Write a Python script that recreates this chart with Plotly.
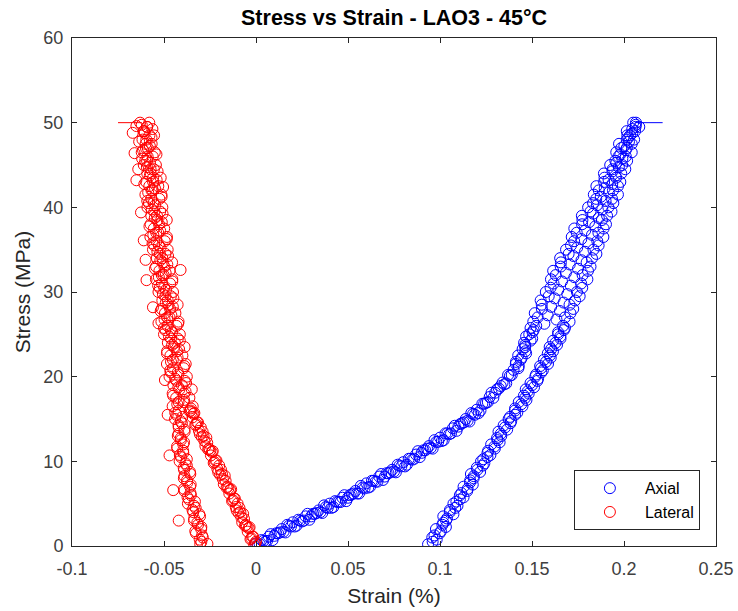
import plotly.graph_objects as go

# ---------------- Axial (strain %, stress MPa) ----------------
ax_load_strain = [0.000,0.002,0.004,0.006,0.008,0.010,0.012,0.014,0.016,0.018,0.020,0.022,0.024,0.026,0.028,
                  0.030,0.032,0.034,0.036,0.038,0.040,0.042,0.044,0.046,0.048,0.050,0.052,0.054,0.056,0.058,
                  0.060,0.062,0.064,0.066,0.068,0.070,0.072,0.074,0.076,0.078,0.080,0.082,0.084,0.086,0.088,
                  0.090,0.092,0.094,0.096,0.098,0.100,0.102,0.104,0.106,0.108,0.110,0.112,0.114,0.116,0.118,
                  0.120,0.122,0.124,0.126,0.128,0.130,0.132,0.134,0.136,0.138,0.140,
                  0.001,0.003,0.005,0.007,0.009,0.011,0.013,0.015,0.017,0.019,0.021,0.023,0.025,0.027,0.029,
                  0.031,0.033,0.035,0.037,0.039,0.041,0.043,0.045,0.047,0.049,0.051,0.053,0.055,0.057,0.059,
                  0.061,0.063,0.065,0.067,0.069,0.071,0.073,0.075,0.077,0.079,0.081,0.083,0.085,0.087,0.089,
                  0.091,0.093,0.095,0.097,0.099,0.101,0.103,0.105,0.107,0.109,0.111,0.113,0.115,0.117,0.119,
                  0.121,0.123,0.125,0.127,0.129,0.131,0.133,0.135,0.137,0.139,
                  0.1426,0.1412,0.1439,0.1425,0.1464,0.1463,0.1457,0.1501,0.1485,0.1509,0.1523,0.1507,0.1531,
                  0.1515,0.1554,0.1553,0.1547,0.1591,0.1575,0.1601,0.1617,0.1603,0.1629,0.1615,0.1656,0.1657,
                  0.1653,0.1699,0.1685,0.1712,0.1729,0.1716,0.1743,0.1730,0.1772,0.1774,0.1771,0.1818,0.1805,
                  0.1832,0.1849,0.1836,0.1863,0.1850,0.1892,0.1894,0.1891,0.1938,0.1925,0.1953,0.1970,0.1958,
                  0.1985,0.1973,0.2015,0.2018,0.2015,0.2063,0.2050,
                  0.1428,0.1413,0.1444,0.1468,0.1449,0.1463,0.1492,0.1468,0.1503,0.1492]
ax_load_stress = [0.3,0.2,0.6,0.6,1.4,1.2,1.5,2.0,1.6,2.4,2.8,2.4,3.0,3.0,3.8,
                  3.5,3.8,4.2,3.9,4.6,5.0,4.6,5.2,5.2,6.0,5.7,6.1,6.5,6.2,6.9,
                  7.4,7.0,7.7,7.6,8.5,8.2,8.6,9.0,8.7,9.5,9.9,9.6,10.3,10.3,11.2,
                  11.0,11.3,11.8,11.5,12.3,12.8,12.5,13.3,13.3,14.2,14.1,14.5,15.0,14.7,15.6,
                  16.1,16.0,16.8,17.0,18.1,18.1,18.6,19.3,19.2,20.1,20.8,
                  0.1,0.7,0.5,1.1,0.7,1.5,1.6,1.7,2.5,2.3,2.3,3.1,2.9,3.5,3.1,
                  3.8,3.9,4.0,4.8,4.5,4.5,5.3,5.2,5.7,5.3,6.0,6.2,6.2,7.1,6.8,
                  6.9,7.7,7.6,8.2,7.8,8.6,8.7,8.8,9.6,9.4,9.4,10.3,10.2,10.8,10.5,
                  11.3,11.5,11.6,12.5,12.3,12.4,13.3,13.2,13.9,13.6,14.4,14.6,14.8,15.7,15.5,
                  15.7,16.8,16.9,17.6,17.5,18.5,18.9,19.1,20.2,20.2,
                  21.0,21.5,22.0,22.5,23.0,23.5,24.0,24.5,25.0,25.5,26.0,26.5,27.0,
                  27.5,28.0,28.5,29.0,29.5,30.0,30.5,31.0,31.5,32.0,32.5,33.0,33.5,
                  34.0,34.5,35.0,35.5,36.0,36.5,37.0,37.5,38.0,38.5,39.0,39.5,40.0,
                  40.5,41.0,41.5,42.0,42.5,43.0,43.5,44.0,44.5,45.0,45.5,46.0,46.5,
                  47.0,47.5,48.0,48.5,49.0,49.5,50.0,
                  21.25,21.75,22.25,22.75,23.25,23.75,24.25,24.75,25.25,25.75]

ax_unl_stress = [50.0,49.5,49.0,48.5,48.0,47.5,47.0,46.5,46.0,45.5,45.0,44.5,44.0,43.5,43.0,42.5,42.0,41.5,
                 41.0,40.5,40.0,39.5,39.0,38.5,38.0,37.5,37.0,36.5,36.0,35.5,35.0,34.5,34.0,33.5,33.0,32.5,
                 32.0,31.5,31.0,30.5,30.0,29.5,29.0,28.5,28.0,27.5,27.0,26.5,26.0,25.5,25.0,24.5,24.0,23.5,
                 23.0,22.5,22.0,21.5,21.0,20.5,20.0,19.5,19.0,18.5,18.0,17.5,17.0,16.5,16.0,15.5,15.0,14.5,
                 14.0,13.5,13.0,12.5,12.0,11.5,11.0,10.5,10.0,9.5,9.0,8.5,8.0,7.5,7.0,6.5,6.0,5.5,
                 5.0,4.5,4.0,3.5,3.0,2.5,2.0,1.5,1.0,0.5,0.2,
                 0.75,1.25,1.75,2.25,2.75,3.25,3.75,4.25,4.75,5.25,5.75,6.25,6.75,7.25,7.75,8.25,8.75,
                 9.25,9.75,10.25,10.75,11.25,11.75,12.25,12.75,13.25,13.75,14.25,14.75,15.25,15.75,16.25,
                 16.75,17.25,17.75,18.25,18.75,19.25,19.75,20.25,20.75,21.25,21.75,22.25,22.75,23.25,23.75,
                 24.25,24.75,25.25,25.75,
                 26.25,26.75,27.25,27.75,28.25,28.75,29.25,29.75,30.25,30.75,31.25,31.75,32.25,32.75,33.25,
                 33.75,34.25,34.75,35.25,35.75,36.25,36.75,37.25,37.75,38.25,38.75,39.25,39.75,40.25,40.75,
                 41.25,41.75,42.25,42.75,43.25,43.75,44.25,44.75,45.25,45.75,46.25,46.75,47.25,47.75,48.25,
                 48.75,49.25,49.75]
ax_unl_strain = [0.2065,0.2083,0.2060,0.2033,0.2055,0.2042,0.2015,0.2042,0.2010,0.2017,0.1990,0.2007,0.1985,
                 0.1957,0.1980,0.1967,0.1940,0.1967,0.1935,0.1942,0.1915,0.1932,0.1908,0.1880,0.1902,0.1889,
                 0.1861,0.1888,0.1855,0.1862,0.1834,0.1850,0.1826,0.1797,0.1818,0.1804,0.1775,0.1801,0.1767,
                 0.1773,0.1744,0.1759,0.1734,0.1704,0.1724,0.1709,0.1679,0.1704,0.1669,0.1673,0.1642,0.1655,
                 0.1628,0.1596,0.1614,0.1597,0.1565,0.1587,0.1549,0.1551,0.1518,0.1529,0.1500,0.1466,0.1482,
                 0.1463,0.1428,0.1448,0.1408,0.1408,0.1373,0.1383,0.1353,0.1318,0.1333,0.1313,0.1278,0.1298,
                 0.1258,0.1258,0.1223,0.1233,0.1203,0.1168,0.1183,0.1163,0.1128,0.1148,0.1108,0.1108,0.1073,
                 0.1083,0.1053,0.1018,0.1033,0.1013,0.0978,0.0998,0.0958,0.0960,0.0935,
                 0.0982,0.0970,0.1005,0.1032,0.1018,0.1038,0.1073,0.1054,0.1095,0.1089,0.1128,0.1116,0.1150,
                 0.1178,0.1164,0.1184,0.1218,0.1200,0.1241,0.1235,0.1274,0.1262,0.1296,0.1324,0.1310,0.1330,
                 0.1365,0.1346,0.1387,0.1381,0.1420,0.1408,0.1442,0.1470,0.1456,0.1476,0.1511,0.1492,0.1533,
                 0.1522,0.1559,0.1544,0.1576,0.1602,0.1586,0.1604,0.1636,0.1615,0.1654,0.1642,0.1679,
                 0.1567,0.1633,0.1585,0.1652,0.1604,0.1672,0.1623,0.1692,0.1643,0.1711,0.1663,0.1730,0.1684,
                 0.1750,0.1705,0.1769,0.1725,0.1788,0.1746,0.1807,0.1768,0.1826,0.1789,0.1844,0.1810,0.1863,
                 0.1832,0.1882,0.1853,0.1900,0.1874,0.1918,0.1895,0.1936,0.1916,0.1954,0.1937,0.1972,0.1958,
                 0.1991,0.1980,0.2009,0.2002,0.2027,0.2024,0.2045,0.2045,0.2064]

# ---------------- Lateral (strain %, stress MPa) ----------------
lat_load_strain = [0.000,-0.001,-0.002,-0.003,-0.004,-0.005,-0.006,-0.007,-0.008,-0.009,-0.010,-0.011,-0.012,
                   -0.013,-0.014,-0.015,-0.016,-0.017,-0.018,-0.019,-0.020,-0.021,-0.022,-0.023,-0.024,-0.025,
                   -0.026,-0.027,-0.028,-0.029,-0.030,-0.031,-0.032,-0.033,-0.034,-0.035,-0.036,
                   -0.0005,-0.0015,-0.0025,-0.0035,-0.0045,-0.0055,-0.0065,-0.0075,-0.0085,-0.0095,-0.0105,
                   -0.0115,-0.0125,-0.0135,-0.0145,-0.0155,-0.0165,-0.0175,-0.0185,-0.0195,-0.0205,-0.0215,
                   -0.0225,-0.0235,-0.0245,-0.0255,-0.0265,-0.0275,-0.0285,-0.0295,-0.0305,-0.0315,-0.0325,
                   -0.0335,-0.0345,-0.0355,
                   -0.0344,-0.0393,-0.0362,-0.0390,-0.0349,-0.0403,-0.0387,-0.0376,-0.0425,-0.0393,-0.0382,
                   -0.0431,-0.0400,-0.0429,-0.0388,-0.0441,-0.0425,-0.0414,-0.0463,-0.0432,-0.0421,-0.0470,
                   -0.0438,-0.0467,-0.0426,-0.0480,-0.0463,-0.0451,-0.0499,-0.0467,-0.0455,-0.0502,-0.0470,
                   -0.0498,-0.0456,-0.0509,-0.0492,-0.0480,-0.0528,-0.0496,-0.0484,-0.0531,-0.0499,-0.0527,
                   -0.0485,-0.0538,-0.0521,-0.0509,-0.0557,-0.0525,-0.0514,-0.0562,-0.0531,-0.0559,-0.0518,
                   -0.0572,-0.0555,-0.0544,-0.0592,-0.0561,-0.0550,-0.0598,-0.0567,-0.0596,-0.0554,-0.0608,
                   -0.0591,-0.0580,
                   -0.0354,-0.0428,-0.0391,-0.0450,-0.0383,-0.0422,-0.0380,-0.0439,-0.0422,-0.0466,-0.0389,
                   -0.0462,-0.0426,-0.0484,-0.0418,-0.0456,-0.0414,-0.0473,-0.0456,-0.0500,-0.0423,-0.0497,
                   -0.0460,-0.0518,-0.0452,-0.0490,-0.0449,-0.0506,-0.0489,-0.0532,-0.0455,-0.0528,-0.0491,
                   -0.0549,-0.0482,-0.0520,-0.0478,-0.0536,-0.0519,-0.0562,-0.0485,-0.0558,-0.0521,-0.0579,
                   -0.0512,-0.0550,-0.0508,-0.0566,-0.0548,-0.0591,-0.0513,-0.0586,-0.0549,-0.0607,-0.0540,
                   -0.0577,-0.0535,-0.0593,-0.0576,-0.0619,-0.0541,-0.0614,-0.0577,-0.0635,-0.0568,-0.0605,
                   -0.0563,-0.0621]
lat_load_stress = [0.5,0.1,1.1,0.8,2.1,2.3,2.4,3.8,3.4,4.5,5.0,4.6,5.6,
                   5.3,6.6,6.8,6.9,8.3,7.9,9.0,9.5,9.1,10.1,9.8,11.1,11.3,
                   11.4,12.8,12.4,13.5,14.0,13.6,14.6,14.3,15.6,15.8,15.9,
                   0.3,1.1,0.9,2.2,1.7,2.5,3.2,2.8,4.0,3.9,4.2,
                   5.6,5.4,6.7,6.2,7.0,7.7,7.3,8.5,8.4,8.7,10.1,
                   9.9,11.2,10.7,11.5,12.2,11.8,13.0,12.9,13.2,14.6,14.4,
                   15.7,15.2,16.0,
                   16.5,17.0,17.5,18.0,18.5,19.0,19.5,20.0,20.5,21.0,21.5,
                   22.0,22.5,23.0,23.5,24.0,24.5,25.0,25.5,26.0,26.5,27.0,
                   27.5,28.0,28.5,29.0,29.5,30.0,30.5,31.0,31.5,32.0,32.5,
                   33.0,33.5,34.0,34.5,35.0,35.5,36.0,36.5,37.0,37.5,38.0,
                   38.5,39.0,39.5,40.0,40.5,41.0,41.5,42.0,42.5,43.0,43.5,
                   44.0,44.5,45.0,45.5,46.0,46.5,47.0,47.5,48.0,48.5,49.0,
                   49.5,50.0,
                   16.25,16.75,17.25,17.75,18.25,18.75,19.25,19.75,20.25,20.75,21.25,
                   21.75,22.25,22.75,23.25,23.75,24.25,24.75,25.25,25.75,26.25,26.75,
                   27.25,27.75,28.25,28.75,29.25,29.75,30.25,30.75,31.25,31.75,32.25,
                   32.75,33.25,33.75,34.25,34.75,35.25,35.75,36.25,36.75,37.25,37.75,
                   38.25,38.75,39.25,39.75,40.25,40.75,41.25,41.75,42.25,42.75,43.25,
                   43.75,44.25,44.75,45.25,45.75,46.25,46.75,47.25,47.75,48.25,48.75,
                   49.25,49.75]

lat_unl_stress = [50.0,49.5,49.0,48.5,48.0,47.5,47.0,46.5,46.0,45.5,45.0,44.5,44.0,43.5,43.0,42.5,42.0,41.5,
                  41.0,40.5,40.0,39.5,39.0,38.5,38.0,37.5,37.0,36.5,36.0,35.5,35.0,34.5,34.0,33.5,33.0,32.5,
                  32.0,31.5,31.0,30.5,30.0,29.5,29.0,28.5,28.0,27.5,27.0,26.5,26.0,25.5,25.0,24.5,24.0,23.5,
                  23.0,22.5,22.0,21.5,21.0,20.5,20.0,19.5,19.0,18.5,18.0,17.5,17.0,16.5,16.0,15.5,15.0,14.5,
                  14.0,13.5,13.0,12.5,12.0,11.5,11.0,10.5,10.0,9.5,9.0,8.5,8.0,7.5,7.0,6.5,6.0,5.5,
                  5.0,4.5,4.0,3.5,3.0,2.5,2.0,1.5,1.0,0.5,0.2,
                  48.8,46.4,43.2,39.4,36.1,33.8,31.4,28.2,26.3,19.6,15.5,10.7,6.6,3.0,42.4,32.6,49.6,44.5,
                  0.25,0.75,1.25,1.75,2.25,2.75,3.25,3.75,4.25,4.75,5.25,5.75,6.25,6.75,7.25,7.75,
                  8.25,8.75,9.25,9.75,10.25,10.75,11.25,11.75,12.25,12.75,13.25,13.75,14.25,14.75,15.25,15.75]
lat_unl_strain = [-0.0630,-0.0593,-0.0611,-0.0579,-0.0617,-0.0600,-0.0588,-0.0621,-0.0589,-0.0602,-0.0610,
                  -0.0573,-0.0591,-0.0559,-0.0597,-0.0580,-0.0568,-0.0601,-0.0569,-0.0582,-0.0590,-0.0552,
                  -0.0569,-0.0536,-0.0573,-0.0555,-0.0542,-0.0574,-0.0541,-0.0553,-0.0560,-0.0522,-0.0539,
                  -0.0506,-0.0543,-0.0525,-0.0512,-0.0544,-0.0511,-0.0523,-0.0530,-0.0492,-0.0509,-0.0476,
                  -0.0513,-0.0495,-0.0482,-0.0514,-0.0481,-0.0493,-0.0500,-0.0462,-0.0479,-0.0446,-0.0483,
                  -0.0465,-0.0452,-0.0484,-0.0451,-0.0463,-0.0470,-0.0432,-0.0449,-0.0416,-0.0453,-0.0434,
                  -0.0421,-0.0453,-0.0420,-0.0433,-0.0440,-0.0403,-0.0420,-0.0388,-0.0425,-0.0408,-0.0395,
                  -0.0428,-0.0395,-0.0408,-0.0415,-0.0376,-0.0391,-0.0357,-0.0392,-0.0373,-0.0358,-0.0389,
                  -0.0354,-0.0365,-0.0370,-0.0328,-0.0341,-0.0304,-0.0337,-0.0315,-0.0298,-0.0326,-0.0289,
                  -0.0297,-0.0303,
                  -0.067,-0.066,-0.065,-0.0625,-0.061,-0.060,-0.0595,-0.056,-0.053,-0.0495,-0.048,-0.047,
                  -0.045,-0.042,-0.0505,-0.041,-0.065,-0.064,
                  -0.0264,-0.0306,-0.0293,-0.0330,-0.0297,-0.0319,-0.0336,-0.0308,-0.0345,-0.0337,-0.0332,
                  -0.0372,-0.0356,-0.0391,-0.0355,-0.0375,-0.0389,-0.0359,-0.0393,-0.0383,-0.0376,-0.0414,
                  -0.0396,-0.0429,-0.0391,-0.0409,-0.0421,-0.0389,-0.0421,-0.0409,-0.0401,-0.0439]

# Hold segments at peak stress
ax_hold_strain = [0.206, 0.221]
ax_hold_stress = [50.0, 50.0]
lat_hold_strain = [-0.075, -0.062]
lat_hold_stress = [50.0, 50.0]

x_tickvals = [-0.1, -0.05, 0, 0.05, 0.1, 0.15, 0.2, 0.25]
x_ticktext = ["-0.1", "-0.05", "0", "0.05", "0.1", "0.15", "0.2", "0.25"]
y_tickvals = [0, 10, 20, 30, 40, 50, 60]

BLUE = "rgb(0,0,255)"
RED = "rgb(255,0,0)"
FONT = "Arial, Liberation Sans, sans-serif"

marker_b = dict(symbol="circle-open", size=11, color=BLUE, line=dict(width=1, color=BLUE))
marker_r = dict(symbol="circle-open", size=11, color=RED, line=dict(width=1, color=RED))

fig = go.Figure()
fig.add_trace(go.Scatter(x=ax_hold_strain, y=ax_hold_stress, mode="lines",
                         line=dict(color=BLUE, width=1), showlegend=False, hoverinfo="skip"))
fig.add_trace(go.Scatter(x=lat_hold_strain, y=lat_hold_stress, mode="lines",
                         line=dict(color=RED, width=1), showlegend=False, hoverinfo="skip"))
fig.add_trace(go.Scatter(x=ax_load_strain + ax_unl_strain, y=ax_load_stress + ax_unl_stress,
                         mode="markers", marker=marker_b, name="Axial"))
fig.add_trace(go.Scatter(x=lat_load_strain + lat_unl_strain, y=lat_load_stress + lat_unl_stress,
                         mode="markers", marker=marker_r, name="Lateral"))

axis_common = dict(showline=True, linecolor="#262626", linewidth=1, mirror="ticks",
                   ticks="inside", ticklen=5, tickcolor="#262626", showgrid=False, zeroline=False,
                   automargin=False,
                   tickfont=dict(family=FONT, size=18, color="#404040"))

fig.update_layout(
    width=738, height=611,
    margin=dict(l=72, r=22, t=38, b=65),
    paper_bgcolor="white", plot_bgcolor="white",
    title=dict(text="<b>Stress vs Strain - LAO3 - 45°C</b>", x=0.534, xanchor="center",
               y=0.971, yanchor="middle", font=dict(family=FONT, size=21.5, color="black")),
    xaxis=dict(range=[-0.1, 0.25], tickvals=x_tickvals, ticktext=x_ticktext, ticklabelstandoff=6,
               title=dict(text="Strain (%)", font=dict(family=FONT, size=21, color="#262626"), standoff=10),
               **axis_common),
    yaxis=dict(range=[0, 60], tickvals=y_tickvals, ticklabelstandoff=4,
               title=dict(text="Stress (MPa)", font=dict(family=FONT, size=21, color="#262626"), standoff=7),
               **axis_common),
    legend=dict(x=0.975, xanchor="right", y=0.031, yanchor="bottom",
                bgcolor="white", bordercolor="#262626", borderwidth=1,
                font=dict(family=FONT, size=16, color="black"), itemwidth=60),
    showlegend=True,
)

fig.write_html("out.html")
